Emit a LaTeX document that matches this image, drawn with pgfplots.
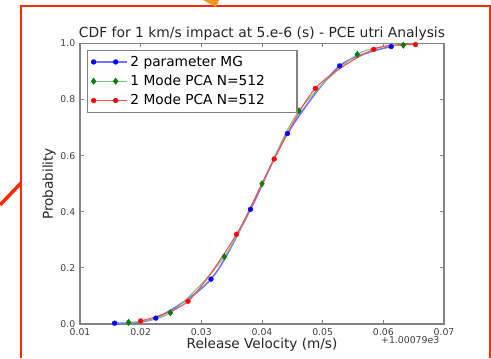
\documentclass[border=0pt]{standalone}
\usepackage{pgfplots}
\pgfplotsset{compat=1.18}
\usepackage{fontspec}
\setmainfont{DejaVu Sans}
\definecolor{frame}{RGB}{255,42,0}
\definecolor{arrowor}{RGB}{245,150,30}
\definecolor{mplgreen}{RGB}{0,128,0}
\definecolor{spine}{RGB}{130,130,130}
\begin{document}
\begin{tikzpicture}[x=0.75pt,y=0.75pt]
\useasboundingbox (0,0) rectangle (491,358);
% decorations
\fill[white] (0,0) rectangle (491,358);
\draw[frame, line width=1.5pt] (21,0) -- (21,351.5) -- (490,351.5) -- (490,0);
\draw[frame, line width=2.6pt] (0,153) -- (21,175);
\fill[arrowor] (203,358) -- (219,358) -- (216,351) -- cycle;
\coordinate (SW) at (80,34);
\begin{axis}[
  at={(SW)}, anchor=south west,
  scale only axis,
  width=273pt, height=210.4pt,
  xmin=0.01, xmax=0.07, ymin=0, ymax=1,
  xtick={0.01,0.02,0.03,0.04,0.05,0.06,0.07},
  ytick={0,0.2,0.4,0.6,0.8,1.0},
  xticklabel style={/pgf/number format/.cd, fixed, fixed zerofill, precision=2, /tikz/.cd},
  yticklabel style={/pgf/number format/.cd, fixed, fixed zerofill, precision=1, /tikz/.cd},
  /pgf/number format/assume math mode=true,
  scaled x ticks=false,
  tick label style={font=\fontsize{7}{8}\selectfont, text=black!75},
  tick align=inside,
  major tick length=3pt,
  tick style={spine, line width=0.6pt},
  axis line style={spine, line width=0.9pt},
  xtick pos=both, ytick pos=both,
  legend style={at={(axis description cs:0.019,0.977)}, anchor=north west,
    draw=spine, line width=0.9pt, font=\fontsize{10.3}{12}\selectfont,
    row sep=1.2pt, inner sep=2pt, cells={anchor=west}},
  legend cell align=left,
  legend image code/.code={\path (0pt,0pt) -- (27pt,0pt); \draw[#1, mark repeat=1] plot coordinates {(2pt,0pt) (18.5pt,0pt)};},
]
\addplot[blue!55, line width=1.2pt, smooth, mark=*, mark size=1.8pt, mark options={fill=blue, draw=blue, line width=0.3pt}]
 coordinates {(0.0157,0.003) (0.0225,0.021) (0.0316,0.160) (0.0381,0.409) (0.0442,0.679) (0.0528,0.920) (0.0613,0.989)};
\addlegendentry{2 parameter MG\hspace*{20pt}}
\addplot[mplgreen!50, line width=0.8pt, smooth, mark=diamond*, mark size=2.4pt, mark options={fill=mplgreen, draw=mplgreen, line width=0.3pt}]
 coordinates {(0.0180,0.006) (0.0249,0.040) (0.0338,0.240) (0.0400,0.500) (0.0461,0.760) (0.0557,0.961) (0.0633,0.994)};
\addlegendentry{1 Mode PCA N=512\hspace*{20pt}}
\addplot[red!70, line width=0.8pt, smooth, mark=*, mark size=1.8pt, mark options={fill=red, draw=red, line width=0.3pt}]
 coordinates {(0.0200,0.011) (0.0278,0.081) (0.0358,0.320) (0.0420,0.588) (0.0488,0.840) (0.0584,0.979) (0.0653,0.996)};
\addlegendentry{2 Mode PCA N=512\hspace*{20pt}}
\end{axis}
\node[font=\fontsize{10.4}{12}\selectfont, text=black!85] at (262,324) {CDF for 1 km/s impact at 5.e-6 (s) - PCE utri Analysis};
\node[font=\fontsize{10.2}{12}\selectfont, text=black!85] at (262,13.5) {Release Velocity (m/s)};
\node[font=\fontsize{10.2}{12}\selectfont, text=black!85, rotate=90] at (49,174) {Probability};
\node[font=\fontsize{7}{8}\selectfont, text=black!75, anchor=east] at (444,18) {+1.00079e3};
\end{tikzpicture}
\end{document}
